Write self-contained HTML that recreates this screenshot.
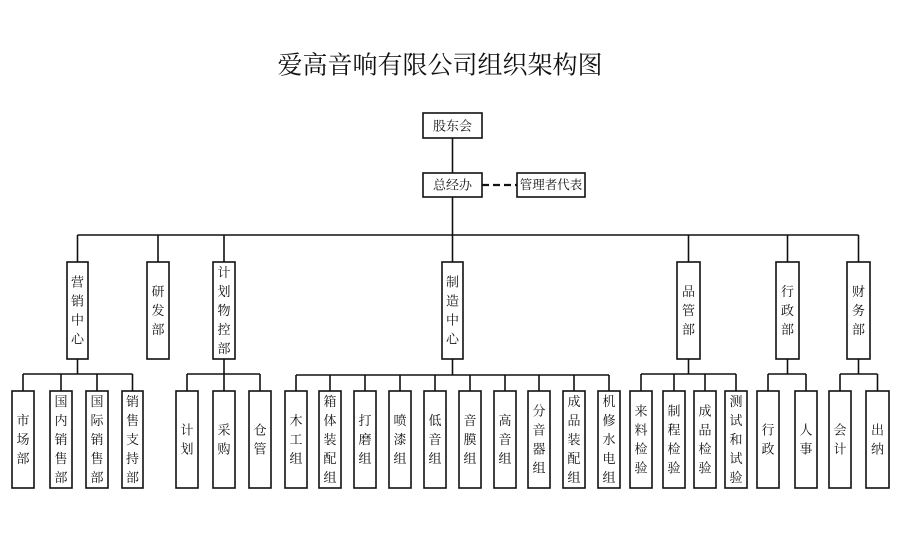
<!DOCTYPE html>
<html><head><meta charset="utf-8"><style>
html,body{margin:0;padding:0;background:#fff;}
svg{display:block;}
text{font-family:"Liberation Serif","Noto Serif CJK SC","Noto Sans CJK SC",serif;font-size:13px;fill:#111;text-anchor:middle;dominant-baseline:central;}
.t{font-size:25px;}
.s{font-size:12.5px;}
</style></head><body>
<svg width="900" height="547" viewBox="0 0 900 547" xmlns="http://www.w3.org/2000/svg">
<g stroke="#111" stroke-width="1.6" fill="#fff">
<line x1="452.5" y1="138" x2="452.5" y2="173"/>
<line x1="452.5" y1="197" x2="452.5" y2="262"/>
<line x1="482" y1="185" x2="517" y2="185" stroke-dasharray="7,4" stroke-width="2.2"/>
<line x1="77.5" y1="235" x2="858.5" y2="235"/>
<line x1="77.5" y1="235" x2="77.5" y2="262"/>
<line x1="158" y1="235" x2="158" y2="262"/>
<line x1="224" y1="235" x2="224" y2="262"/>
<line x1="688.5" y1="235" x2="688.5" y2="262"/>
<line x1="787.5" y1="235" x2="787.5" y2="262"/>
<line x1="858.5" y1="235" x2="858.5" y2="262"/>
<line x1="77.5" y1="359" x2="77.5" y2="374"/>
<line x1="23" y1="374" x2="132.5" y2="374"/>
<line x1="23" y1="374" x2="23" y2="391"/><line x1="61" y1="374" x2="61" y2="391"/><line x1="97" y1="374" x2="97" y2="391"/><line x1="132.5" y1="374" x2="132.5" y2="391"/>
<line x1="224" y1="359" x2="224" y2="374"/>
<line x1="187" y1="374" x2="260" y2="374"/>
<line x1="187" y1="374" x2="187" y2="391"/><line x1="224" y1="374" x2="224" y2="391"/><line x1="260" y1="374" x2="260" y2="391"/>
<line x1="452.5" y1="359" x2="452.5" y2="375"/>
<line x1="296" y1="375" x2="609" y2="375"/>
<line x1="296" y1="375" x2="296" y2="391"/><line x1="330" y1="375" x2="330" y2="391"/><line x1="365" y1="375" x2="365" y2="391"/><line x1="400" y1="375" x2="400" y2="391"/><line x1="435" y1="375" x2="435" y2="391"/><line x1="470" y1="375" x2="470" y2="391"/><line x1="505" y1="375" x2="505" y2="391"/><line x1="539" y1="375" x2="539" y2="391"/><line x1="574" y1="375" x2="574" y2="391"/><line x1="609" y1="375" x2="609" y2="391"/>
<line x1="688.5" y1="359" x2="688.5" y2="374"/>
<line x1="641" y1="374" x2="736" y2="374"/>
<line x1="641" y1="374" x2="641" y2="391"/><line x1="674" y1="374" x2="674" y2="391"/><line x1="705" y1="374" x2="705" y2="391"/><line x1="736" y1="374" x2="736" y2="391"/>
<line x1="787.5" y1="359" x2="787.5" y2="374"/>
<line x1="768" y1="374" x2="806" y2="374"/>
<line x1="768" y1="374" x2="768" y2="391"/><line x1="806" y1="374" x2="806" y2="391"/>
<line x1="858.5" y1="359" x2="858.5" y2="374"/>
<line x1="840" y1="374" x2="877.5" y2="374"/>
<line x1="840" y1="374" x2="840" y2="391"/><line x1="877.5" y1="374" x2="877.5" y2="391"/>
<rect x="423" y="113" width="59" height="25"/>
<rect x="423" y="173" width="59" height="24"/>
<rect x="517" y="173" width="68" height="24"/>
<rect x="67" y="262" width="21" height="97"/>
<rect x="147" y="262" width="22" height="97"/>
<rect x="213" y="262" width="22" height="97"/>
<rect x="442" y="262" width="21" height="97"/>
<rect x="677" y="262" width="23" height="97"/>
<rect x="776" y="262" width="23" height="97"/>
<rect x="847" y="262" width="23" height="97"/>
<rect x="12" y="391" width="22" height="97"/><rect x="50" y="391" width="22" height="97"/><rect x="86" y="391" width="22" height="97"/><rect x="122" y="391" width="21" height="97"/>
<rect x="176" y="391" width="22" height="97"/><rect x="213" y="391" width="22" height="97"/><rect x="249" y="391" width="22" height="97"/>
<rect x="285" y="391" width="22" height="97"/><rect x="319" y="391" width="22" height="97"/><rect x="354" y="391" width="22" height="97"/><rect x="389" y="391" width="22" height="97"/><rect x="424" y="391" width="22" height="97"/><rect x="459" y="391" width="22" height="97"/><rect x="494" y="391" width="22" height="97"/><rect x="528" y="391" width="22" height="97"/><rect x="563" y="391" width="22" height="97"/><rect x="598" y="391" width="22" height="97"/>
<rect x="630" y="391" width="22" height="97"/><rect x="663" y="391" width="22" height="97"/><rect x="694" y="391" width="22" height="97"/><rect x="725" y="391" width="22" height="97"/>
<rect x="757" y="391" width="22" height="97"/><rect x="795" y="391" width="22" height="97"/>
<rect x="829" y="391" width="22" height="97"/><rect x="866" y="391" width="23" height="97"/>
</g>
<text class="t" x="440" y="66">爱高音响有限公司组织架构图</text>
<text x="452.5" y="126">股东会</text>
<text x="452.5" y="185">总经办</text>
<text class="s" x="551" y="185">管理者代表</text>
<text x="77.5" y="282">营</text><text x="77.5" y="301">销</text><text x="77.5" y="320">中</text><text x="77.5" y="339">心</text>
<text x="158" y="291.5">研</text><text x="158" y="310.5">发</text><text x="158" y="329.5">部</text>
<text x="224" y="272.5">计</text><text x="224" y="291.5">划</text><text x="224" y="310.5">物</text><text x="224" y="329.5">控</text><text x="224" y="348.5">部</text>
<text x="452.5" y="282">制</text><text x="452.5" y="301">造</text><text x="452.5" y="320">中</text><text x="452.5" y="339">心</text>
<text x="688.5" y="291.5">品</text><text x="688.5" y="310.5">管</text><text x="688.5" y="329.5">部</text>
<text x="787.5" y="291.5">行</text><text x="787.5" y="310.5">政</text><text x="787.5" y="329.5">部</text>
<text x="858.5" y="291.5">财</text><text x="858.5" y="310.5">务</text><text x="858.5" y="329.5">部</text>
<text x="23" y="420.5">市</text><text x="23" y="439.5">场</text><text x="23" y="458.5">部</text>
<text x="61" y="401.5">国</text><text x="61" y="420.5">内</text><text x="61" y="439.5">销</text><text x="61" y="458.5">售</text><text x="61" y="477.5">部</text>
<text x="97" y="401.5">国</text><text x="97" y="420.5">际</text><text x="97" y="439.5">销</text><text x="97" y="458.5">售</text><text x="97" y="477.5">部</text>
<text x="132.5" y="401.5">销</text><text x="132.5" y="420.5">售</text><text x="132.5" y="439.5">支</text><text x="132.5" y="458.5">持</text><text x="132.5" y="477.5">部</text>
<text x="187" y="430">计</text><text x="187" y="449">划</text>
<text x="224" y="430">采</text><text x="224" y="449">购</text>
<text x="260" y="430">仓</text><text x="260" y="449">管</text>
<text x="296" y="420.5">木</text><text x="296" y="439.5">工</text><text x="296" y="458.5">组</text>
<text x="330" y="401.5">箱</text><text x="330" y="420.5">体</text><text x="330" y="439.5">装</text><text x="330" y="458.5">配</text><text x="330" y="477.5">组</text>
<text x="365" y="420.5">打</text><text x="365" y="439.5">磨</text><text x="365" y="458.5">组</text>
<text x="400" y="420.5">喷</text><text x="400" y="439.5">漆</text><text x="400" y="458.5">组</text>
<text x="435" y="420.5">低</text><text x="435" y="439.5">音</text><text x="435" y="458.5">组</text>
<text x="470" y="420.5">音</text><text x="470" y="439.5">膜</text><text x="470" y="458.5">组</text>
<text x="505" y="420.5">高</text><text x="505" y="439.5">音</text><text x="505" y="458.5">组</text>
<text x="539" y="411">分</text><text x="539" y="430">音</text><text x="539" y="449">器</text><text x="539" y="468">组</text>
<text x="574" y="401.5">成</text><text x="574" y="420.5">品</text><text x="574" y="439.5">装</text><text x="574" y="458.5">配</text><text x="574" y="477.5">组</text>
<text x="609" y="401.5">机</text><text x="609" y="420.5">修</text><text x="609" y="439.5">水</text><text x="609" y="458.5">电</text><text x="609" y="477.5">组</text>
<text x="641" y="411">来</text><text x="641" y="430">料</text><text x="641" y="449">检</text><text x="641" y="468">验</text>
<text x="674" y="411">制</text><text x="674" y="430">程</text><text x="674" y="449">检</text><text x="674" y="468">验</text>
<text x="705" y="411">成</text><text x="705" y="430">品</text><text x="705" y="449">检</text><text x="705" y="468">验</text>
<text x="736" y="401.5">测</text><text x="736" y="420.5">试</text><text x="736" y="439.5">和</text><text x="736" y="458.5">试</text><text x="736" y="477.5">验</text>
<text x="768" y="430">行</text><text x="768" y="449">政</text>
<text x="806" y="430">人</text><text x="806" y="449">事</text>
<text x="840" y="430">会</text><text x="840" y="449">计</text>
<text x="877.5" y="430">出</text><text x="877.5" y="449">纳</text>
</svg>
</body></html>
